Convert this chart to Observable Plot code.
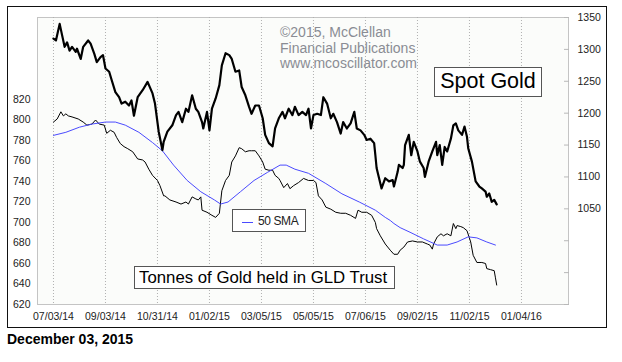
<!DOCTYPE html>
<html>
<head>
<meta charset="utf-8">
<script src="https://cdn.jsdelivr.net/npm/d3@7"></script>
<script src="https://cdn.jsdelivr.net/npm/@observablehq/plot@0.6"></script>
<style>
  html, body { margin: 0; padding: 0; background: #fff; }
  body { width: 622px; height: 362px; position: relative; overflow: hidden; font-family: "Liberation Sans", Arial, sans-serif; }
  #frame { position: absolute; left: 7px; top: 6px; width: 598px; height: 320px; border: 1px solid #111; }
  #frame svg { position: absolute; left: 0; top: 0; }
  .abs { position: absolute; white-space: nowrap; }
  .box { position: absolute; background: #fff; border: 1px solid #555; box-sizing: border-box; }
</style>
</head>
<body>
<div id="frame"></div>
<div class="abs" id="copy" style="left:280px; top:25px; font-size:14px; line-height:15.5px; color:#8a8c94;">
  ©2015, McClellan<br>Financial Publications<br>www.mcoscillator.com
</div>
<div class="box" style="left:434px; top:67px; width:108px; height:30px;">
  <div class="abs" style="left:0; top:0; width:106px; text-align:center; font-size:21.5px; line-height:26px; color:#000;">Spot Gold</div>
</div>
<div class="box" style="left:232px; top:209px; width:74px; height:23px;">
  <div class="abs" style="left:9px; top:12px; width:11px; height:0; border-top:1px solid #4a4aff;"></div>
  <div class="abs" style="left:25px; top:1px; font-size:12px; letter-spacing:-0.4px; line-height:21px; color:#222;">50 SMA</div>
</div>
<div class="box" style="left:134px; top:266px; width:261px; height:23px;">
  <div class="abs" style="left:4px; top:0; font-size:16.8px; line-height:21px; color:#000;">Tonnes of Gold held in GLD Trust</div>
</div>
<div class="abs" style="left:7px; top:331px; font-size:14px; line-height:16px; font-weight:bold; color:#000;">December 03, 2015</div>
<script>
// x positions are trading-day offsets from 07/03/14
const tickDays = [0, 42, 84, 126, 168, 210, 252, 294, 336, 378];
const tickLabels = ["07/03/14", "09/03/14", "10/31/14", "01/02/15", "03/05/15", "05/05/15", "07/06/15", "09/02/15", "11/02/15", "01/04/16"];
const gldTicks = [620, 640, 660, 680, 700, 720, 740, 760, 780, 800, 820];
const goldTicks = [900, 950, 1000, 1050, 1100, 1150, 1200, 1250, 1300, 1350];

// Spot gold ($/oz), right axis
const goldDays = [0,2,5,7,9,11,13,15,18,19,22,24,28,30,33,35,38,40,42,45,47,50,53,55,58,61,63,65,68,72,76,80,82,85,88,89,92,96,99,101,104,107,109,112,115,117,120,121,124,126,128,131,134,136,139,142,144,147,150,152,155,158,160,163,166,169,171,174,177,179,182,185,187,190,193,195,198,201,204,206,208,210,213,216,218,221,224,226,229,232,234,237,240,243,245,248,251,253,256,259,260,261,263,265,268,271,274,275,278,279,282,283,284,287,289,291,294,296,299,300,303,306,309,310,312,314,316,318,321,323,325,327,330,332,334,335,338,341,344,346,349,350,352,354,356,358];
const goldValues = [1317,1314,1340,1322,1304,1311,1298,1304,1296,1301,1285,1304,1314,1309,1293,1280,1288,1291,1270,1265,1252,1233,1225,1215,1218,1212,1220,1196,1225,1236,1249,1231,1215,1171,1142,1155,1171,1181,1197,1202,1186,1207,1202,1228,1207,1202,1186,1176,1202,1173,1207,1223,1244,1275,1294,1291,1285,1265,1267,1241,1228,1210,1199,1212,1212,1192,1166,1153,1148,1176,1192,1202,1192,1207,1197,1210,1197,1202,1197,1207,1176,1197,1199,1197,1225,1215,1192,1199,1186,1168,1186,1176,1184,1202,1176,1173,1166,1158,1160,1153,1134,1114,1098,1082,1098,1093,1095,1085,1108,1119,1114,1119,1150,1166,1134,1155,1140,1124,1114,1100,1124,1140,1155,1134,1150,1119,1147,1140,1160,1181,1184,1173,1166,1179,1163,1145,1124,1093,1085,1082,1077,1069,1074,1061,1064,1057];

// GLD tonnes, left axis
const gldDays = [0,3,6,8,10,12,15,20,24,27,31,34,37,41,43,46,49,51,54,57,60,64,68,72,74,77,80,84,86,89,90,94,99,103,107,109,112,115,117,119,120,124,128,131,134,135,136,139,142,144,147,150,152,155,158,160,163,166,169,171,174,177,179,182,183,186,189,191,194,198,202,206,210,212,214,217,220,224,228,232,236,240,244,246,249,253,257,260,261,264,268,272,275,278,280,283,286,290,294,298,302,304,306,307,310,313,315,318,321,323,325,326,329,331,334,337,339,342,346,349,350,353,356,357,358];
const gldValues = [798,801,808,804,806,804,803,801,798,795,796,800,796,795,787,790,788,783,777,774,772,769,762,761,759,752,746,741,736,726,726,722,720,718,720,718,725,723,722,725,712,710,707,705,709,720,731,741,746,759,765,773,772,769,770,770,770,765,759,752,751,751,746,743,741,734,738,733,736,739,743,741,741,739,726,722,715,713,710,709,709,707,704,712,710,710,707,700,694,687,679,673,669,669,673,676,681,682,681,681,679,678,674,679,686,689,687,689,687,699,694,697,696,695,692,681,668,661,661,660,655,654,653,646,639];

// 50-day SMA of GLD tonnes
const smaDays = [0,10,21,31,42,50,58,69,80,88,97,108,119,130,135,141,151,162,173,183,188,195,206,220,233,247,260,268,272,275,280,288,299,310,318,326,335,342,350,357];
const smaValues = [785,788,793,796,798,798,795,788,778,770,756,741,730,722,718,720,730,741,749,756,756,752,748,738,728,720,712,705,702,699,695,690.5,684,678,678,681,686,685,681,678];

const gold = goldDays.map((d, i) => ({day: d, value: goldValues[i]}));
const gld = gldDays.map((d, i) => ({day: d, value: gldValues[i]}));
const sma = smaDays.map((d, i) => ({day: d, value: smaValues[i]}));

// map gold (900..1350) onto the tonnes scale (620..900)
const toY = g => 620 + (g - 900) * (280 / 450);
const fromY = y => 900 + (y - 620) * (450 / 280);

const chart = Plot.plot({
  width: 598,
  height: 320,
  marginLeft: 29,
  marginRight: 38,
  marginTop: 10,
  marginBottom: 23,
  style: {fontFamily: '"Liberation Sans", Arial, sans-serif', fontSize: "10.5px", background: "transparent", color: "#222"},
  x: {domain: [-12.9, 416]},
  y: {domain: [620, 900]},
  marks: [
    Plot.frame({fill: "#fbfcfa", stroke: "#c4c4c4"}),
    Plot.gridX(tickDays, {stroke: "#b0b0b0", strokeOpacity: 1, strokeDasharray: "1,2"}),
    Plot.axisX(tickDays, {tickSize: 0, tickPadding: 8, label: null, fill: "#222",
      tickFormat: d => tickLabels[tickDays.indexOf(d)]}),
    Plot.axisY(gldTicks, {anchor: "left", tickSize: 0, tickPadding: 7, label: null, fill: "#222"}),
    Plot.axisY(goldTicks.map(toY), {anchor: "right", tickSize: -5, tickPadding: 14, label: null,
      stroke: "#b8b8b8", fill: "#222",
      tickFormat: y => { const g = Math.round(fromY(y)); return g >= 1050 ? String(g) : ""; }}),
    Plot.line(gld, {x: "day", y: "value", stroke: "#000", strokeWidth: 1}),
    Plot.line(sma, {x: "day", y: "value", stroke: "#4a4aff", strokeWidth: 1}),
    Plot.line(gold, {x: "day", y: d => toY(d.value), stroke: "#000", strokeWidth: 2.2})
  ]
});
document.getElementById("frame").appendChild(chart);
</script>
</body>
</html>
